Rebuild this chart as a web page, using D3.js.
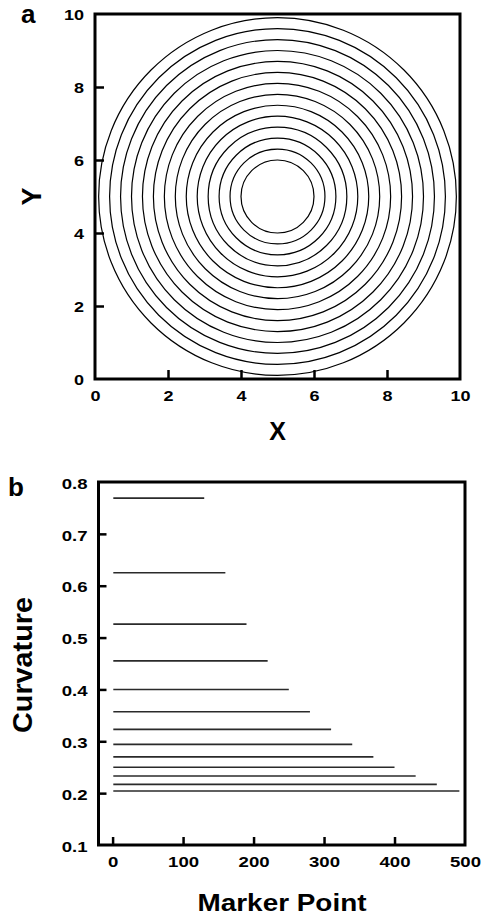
<!DOCTYPE html>
<html>
<head>
<meta charset="utf-8">
<script src="https://cdn.jsdelivr.net/npm/d3@7"></script>
<style>
  html, body { margin: 0; padding: 0; background: #fff; }
  svg { display: block; }
  text { font-family: "Liberation Sans", Arial, Helvetica, sans-serif; font-weight: bold; fill: #000; }
</style>
</head>
<body>
<svg id="chart" width="481" height="917"></svg>
<script>
// Panel a: concentric circles centred on (5, 5)
const circleCenter = [5, 5];
const circleRadii = [1.0, 1.3, 1.6, 1.9, 2.2, 2.5, 2.8, 3.1, 3.4, 3.7, 4.0, 4.3, 4.6, 4.9];
const xyTicks = [0, 2, 4, 6, 8, 10];

// Panel b: curvature of each circle (1/r) against its marker-point range
const curvature = [0.769, 0.625, 0.526, 0.455, 0.400, 0.357, 0.323, 0.294, 0.270, 0.250, 0.233, 0.217, 0.204];
const markerStart = [1, 1, 1, 1, 1, 1, 1, 1, 1, 1, 1, 1, 1];
const markerEnd = [130, 160, 190, 220, 250, 280, 310, 340, 370, 400, 430, 460, 492];
const curvatureTicks = [0.1, 0.2, 0.3, 0.4, 0.5, 0.6, 0.7, 0.8];
const markerTicks = [0, 100, 200, 300, 400, 500];

const svg = d3.select("#chart");
const STRETCH = 1.2;

// widen bold tick glyphs horizontally
function widen(sel, k) {
  sel.each(function () {
    const w = this.getComputedTextLength();
    d3.select(this).attr("textLength", w * k).attr("lengthAdjust", "spacingAndGlyphs");
  });
}

// ---------- panel a ----------
const ax = d3.scaleLinear().domain([0, 10]).range([95, 460]);
const ay = d3.scaleLinear().domain([0, 10]).range([379, 14]);

const gA = svg.append("g");

gA.append("g").selectAll("circle")
  .data(circleRadii)
  .join("circle")
  .attr("cx", ax(circleCenter[0]))
  .attr("cy", ay(circleCenter[1]))
  .attr("r", d => ax(d) - ax(0))
  .attr("fill", "none")
  .attr("stroke", "#000")
  .attr("stroke-width", 1.2);

// tick marks pointing into the plot
const axA = gA.append("g").attr("transform", `translate(0,${ay(0)})`)
  .call(d3.axisBottom(ax).tickValues(xyTicks).tickSize(-9).tickPadding(13).tickFormat(d3.format("d")));
axA.select(".domain").remove();
axA.selectAll(".tick line").attr("stroke-width", 2.5).attr("display", d => (d === 0 || d === 10) ? "none" : null);
axA.selectAll(".tick text").attr("font-size", 15).attr("dy", "0.71em").attr("y", 11);

const ayA = gA.append("g").attr("transform", `translate(${ax(0)},0)`)
  .call(d3.axisLeft(ay).tickValues(xyTicks).tickSize(-9).tickPadding(11).tickFormat(d3.format("d")));
ayA.select(".domain").remove();
ayA.selectAll(".tick line").attr("stroke-width", 2.5).attr("display", d => (d === 0 || d === 10) ? "none" : null);
ayA.selectAll(".tick text").attr("font-size", 15).attr("dy", "0.38em");

gA.selectAll(".tick text").call(widen, STRETCH);
gA.selectAll(".tick text").attr("font-family", null).attr("fill", "#000");

gA.append("rect")
  .attr("x", ax(0)).attr("y", ay(10))
  .attr("width", ax(10) - ax(0)).attr("height", ay(0) - ay(10))
  .attr("fill", "none").attr("stroke", "#000").attr("stroke-width", 3);

gA.append("text").attr("x", 21).attr("y", 23).attr("font-size", 26).text("a");
gA.append("text").attr("x", (ax(0) + ax(10)) / 2).attr("y", 440)
  .attr("text-anchor", "middle").attr("font-size", 25).text("X");
gA.append("text").attr("transform", `translate(41,${ay(5)}) rotate(-90)`)
  .attr("text-anchor", "middle").attr("font-size", 27).text("Y");

// ---------- panel b ----------
const bx = d3.scaleLinear().domain([-20, 500]).range([98.5, 465]);
const by = d3.scaleLinear().domain([0.1, 0.8]).range([845, 482]);

const gB = svg.append("g");

gB.append("g").selectAll("line")
  .data(curvature)
  .join("line")
  .attr("x1", (d, i) => bx(markerStart[i]))
  .attr("x2", (d, i) => bx(markerEnd[i]))
  .attr("y1", d => by(d))
  .attr("y2", d => by(d))
  .attr("stroke", "#2a2a2a")
  .attr("stroke-width", 1.6);

const axB = gB.append("g").attr("transform", `translate(0,${by(0.1)})`)
  .call(d3.axisBottom(bx).tickValues(markerTicks).tickSize(-8).tickPadding(13).tickFormat(d3.format("d")));
axB.select(".domain").remove();
axB.selectAll(".tick line").attr("stroke-width", 2.5).attr("display", d => d === 500 ? "none" : null);
axB.selectAll(".tick text").attr("font-size", 15.5).attr("dy", "0.71em").attr("y", 11);

const ayB = gB.append("g").attr("transform", `translate(${bx(-20)},0)`)
  .call(d3.axisLeft(by).tickValues(curvatureTicks).tickSize(-8).tickPadding(11).tickFormat(d3.format(".1f")));
ayB.select(".domain").remove();
ayB.selectAll(".tick line").attr("stroke-width", 2.5).attr("display", d => (d === 0.1 || d === 0.8) ? "none" : null);
ayB.selectAll(".tick text").attr("font-size", 15.5).attr("dy", "0.4em");

gB.selectAll(".tick text").call(widen, STRETCH);
gB.selectAll(".tick text").attr("font-family", null).attr("fill", "#000");

gB.append("rect")
  .attr("x", bx(-20)).attr("y", by(0.8))
  .attr("width", bx(500) - bx(-20)).attr("height", by(0.1) - by(0.8))
  .attr("fill", "none").attr("stroke", "#000").attr("stroke-width", 3);

gB.append("text").attr("x", 8).attr("y", 496).attr("font-size", 26).text("b");
gB.append("text").attr("x", 282).attr("y", 911)
  .attr("text-anchor", "middle").attr("font-size", 24)
  .attr("textLength", 169).attr("lengthAdjust", "spacingAndGlyphs").text("Marker Point");
gB.append("text").attr("transform", `translate(32,665) rotate(-90)`)
  .attr("text-anchor", "middle").attr("font-size", 28)
  .attr("textLength", 136).attr("lengthAdjust", "spacingAndGlyphs").text("Curvature");
</script>
</body>
</html>
